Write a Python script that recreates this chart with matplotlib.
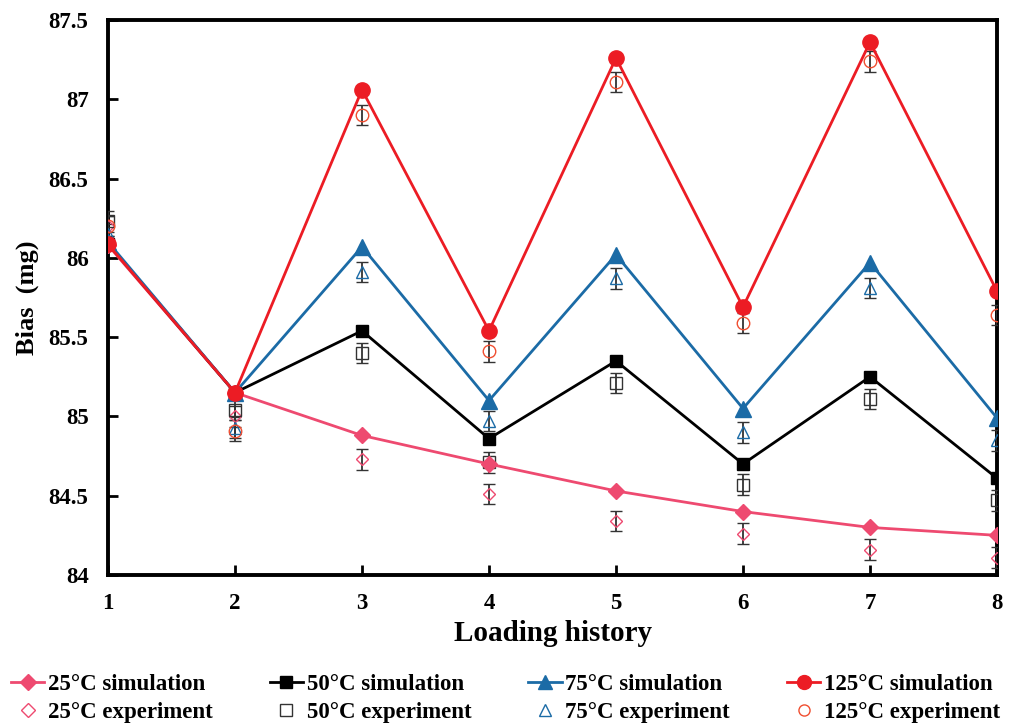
import matplotlib.pyplot as plt
from matplotlib.lines import Line2D

plt.rcParams['font.family'] = ['Liberation Serif', 'DejaVu Serif']
plt.rcParams['font.weight'] = 'bold'

x = [1, 2, 3, 4, 5, 6, 7, 8]

sim_25 = [86.08, 85.15, 84.88, 84.70, 84.53, 84.40, 84.30, 84.25]
sim_50 = [86.09, 85.15, 85.54, 84.86, 85.35, 84.70, 85.25, 84.61]
sim_75 = [86.10, 85.15, 86.07, 85.10, 86.02, 85.05, 85.97, 84.99]
sim_125 = [86.085, 85.15, 87.06, 85.54, 87.26, 85.69, 87.36, 85.79]

exp_25 = [86.20, 85.00, 84.73, 84.51, 84.34, 84.26, 84.16, 84.11]
exp_50 = [86.23, 85.04, 85.40, 84.71, 85.21, 84.57, 85.11, 84.47]
exp_75 = [86.15, 84.93, 85.91, 84.97, 85.87, 84.90, 85.81, 84.85]
exp_125 = [86.20, 84.91, 86.90, 85.41, 87.11, 85.59, 87.24, 85.64]
err = [0.065] * 8

pink = '#EE4A70'
blue = '#1B6BA6'
red = '#EC1C24'
gray = '#333333'

fig = plt.figure(figsize=(10.13, 7.26), dpi=100)
ax = fig.add_axes([108 / 1013, 1 - 575 / 726, 889 / 1013, 555 / 726])

# experiment points with error bars
exp_styles = [
    (exp_25, 'D', pink, 6.5),
    (exp_50, 's', gray, 8),
    (exp_75, '^', blue, 8),
    (exp_125, 'o', '#F04E30', 9),
]
for vals, m, c, ms in exp_styles:
    ax.errorbar(x, vals, yerr=err, fmt=m, mfc='none', mec=c, mew=1.0, ms=ms,
                ecolor=gray, elinewidth=1.3, capsize=4, capthick=1.3, zorder=3)

# simulation lines
ax.plot(x, sim_25, color=pink, lw=2, marker='D', ms=8, zorder=4)
ax.plot(x, sim_50, color='black', lw=2, marker='s', ms=9, zorder=4)
ax.plot(x, sim_75, color=blue, lw=2, marker='^', ms=11, zorder=4)
ax.plot(x, sim_125, color=red, lw=2, marker='o', ms=11, zorder=5)

ax.set_xlim(1, 8)
ax.set_ylim(84, 87.5)
ax.set_xticks(x)
ax.set_yticks([84, 84.5, 85, 85.5, 86, 86.5, 87, 87.5])
ax.set_yticklabels(['84', '84.5', '85', '85.5', '86', '86.5', '87', '87.5'])
ax.tick_params(direction='in', length=7, width=2, labelsize=16.5, pad=14)
ax.tick_params(axis='x', pad=13)
for s in ax.spines.values():
    s.set_linewidth(2.8)
for lab in ax.get_xticklabels() + ax.get_yticklabels():
    lab.set_fontweight('bold')

ax.set_xlabel('Loading history', fontsize=21, fontweight='bold', labelpad=4)
ax.set_ylabel('Bias  (mg)', fontsize=19, fontweight='bold', labelpad=7)

handles = [
    Line2D([], [], color=pink, lw=2, marker='D', ms=8),
    Line2D([], [], ls='none', marker='D', mfc='none', mec=pink, ms=7),
    Line2D([], [], color='black', lw=2, marker='s', ms=8),
    Line2D([], [], ls='none', marker='s', mfc='none', mec=gray, ms=8),
    Line2D([], [], color=blue, lw=2, marker='^', ms=10),
    Line2D([], [], ls='none', marker='^', mfc='none', mec=blue, ms=8),
    Line2D([], [], color=red, lw=2, marker='o', ms=10),
    Line2D([], [], ls='none', marker='o', mfc='none', mec='#F04E30', ms=8),
]
labels = ['25°C simulation', '25°C experiment', '50°C simulation', '50°C experiment',
          '75°C simulation', '75°C experiment', '125°C simulation', '125°C experiment']
fig.legend(handles, labels, ncol=4, loc='upper left', bbox_to_anchor=(0.011, 0.071),
           frameon=False, prop={'weight': 'bold', 'size': 16.5}, handlelength=1.45,
           handletextpad=0.15, columnspacing=2.5, labelspacing=0.28,
           borderpad=0, borderaxespad=0)

plt.savefig('out.png', dpi=100)
